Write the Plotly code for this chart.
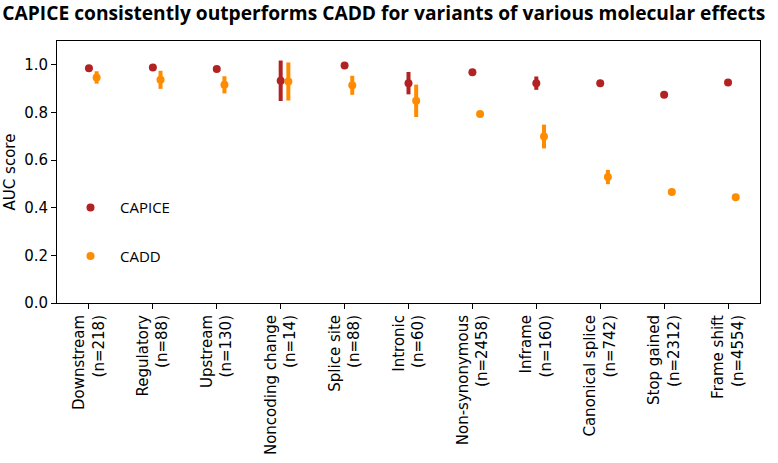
import plotly.graph_objects as go

categories = ["Downstream", "Regulatory", "Upstream", "Noncoding change", "Splice site",
              "Intronic", "Non-synonymous", "Inframe", "Canonical splice", "Stop gained", "Frame shift"]
counts = [218, 88, 130, 14, 88, 60, 2458, 160, 742, 2312, 4554]

capice_auc = [0.986, 0.989, 0.982, 0.933, 0.997, 0.923, 0.969, 0.923, 0.923, 0.874, 0.926]
capice_err = [0.008, 0.008, 0.008, 0.085, 0.004, 0.047, 0.004, 0.028, 0.010, 0.010, 0.005]
cadd_auc = [0.947, 0.937, 0.916, 0.930, 0.914, 0.849, 0.794, 0.699, 0.529, 0.466, 0.444]
cadd_err = [0.026, 0.038, 0.036, 0.080, 0.040, 0.068, 0.010, 0.050, 0.030, 0.012, 0.010]

y_ticks = [0.0, 0.2, 0.4, 0.6, 0.8, 1.0]

CAPICE_COLOR = "#B22222"
CADD_COLOR = "#FF8C00"
CADD_SHIFT = 0.12

idx = list(range(len(categories)))
tick_text = [f"{c}<br>(n={n})" for c, n in zip(categories, counts)]

fig = go.Figure()
fig.add_trace(go.Scatter(
    x=idx, y=capice_auc, mode="markers", name="CAPICE", legendgroup="a",
    marker=dict(color=CAPICE_COLOR, size=8),
    error_y=dict(type="data", array=capice_err, color=CAPICE_COLOR, thickness=4, width=0),
))
fig.add_trace(go.Scatter(
    x=[i + CADD_SHIFT for i in idx], y=cadd_auc, mode="markers", name="CADD", legendgroup="b",
    marker=dict(color=CADD_COLOR, size=8),
    error_y=dict(type="data", array=cadd_err, color=CADD_COLOR, thickness=4, width=0),
))

tick_font = dict(family="DejaVu Sans", size=15, color="black")

fig.update_layout(
    width=778, height=463,
    margin=dict(l=57, r=18, t=41, b=160),
    paper_bgcolor="white", plot_bgcolor="white",
    title=dict(text="<b>CAPICE consistently outperforms CADD for variants of various molecular effects</b>",
               x=0.003, xref="container", xanchor="left", y=0.972, yref="container", yanchor="middle",
               font=dict(family="Open Sans", size=19.2, color="black")),
    showlegend=True,
    legend=dict(x=0.0057, y=0.427, xanchor="left", yanchor="top", xref="paper", yref="paper",
                font=dict(family="Open Sans", size=15, color="black"),
                bgcolor="rgba(0,0,0,0)", itemwidth=49, tracegroupgap=26,
                traceorder="grouped"),
    xaxis=dict(range=[-0.5, 10.5], tickmode="array", tickvals=idx, ticktext=tick_text,
               tickangle=-90, showgrid=False, zeroline=False, showline=True, mirror=True,
               linecolor="black", linewidth=1, ticks="outside", ticklen=5, tickcolor="black",
               tickfont=tick_font, automargin=False),
    yaxis=dict(range=[0, 1.1], tickmode="array", tickvals=y_ticks,
               ticktext=[f"{v:.1f}" for v in y_ticks],
               showgrid=False, zeroline=False, showline=True, mirror=True,
               linecolor="black", linewidth=1, ticks="outside", ticklen=5, tickcolor="black",
               tickfont=tick_font, automargin=False,
               title=dict(text="AUC score", font=dict(family="DejaVu Sans", size=15, color="black"),
                          standoff=4)),
)

fig.write_html("out.html", config={"displayModeBar": False},
               post_script="document.body.style.margin='0';document.body.style.overflow='hidden';")
